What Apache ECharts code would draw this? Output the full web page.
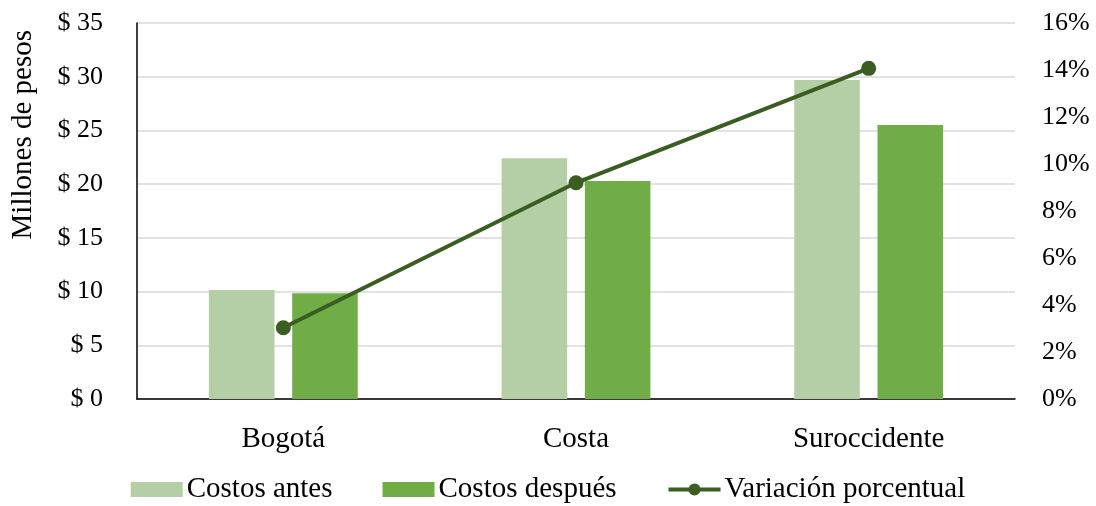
<!DOCTYPE html>
<html>
<head>
<meta charset="utf-8">
<script src="https://cdn.jsdelivr.net/npm/echarts@6/dist/echarts.min.js"></script>
<style>
  html, body { margin: 0; padding: 0; background: #fff; }
  #chart { width: 1096px; height: 506px; }
</style>
</head>
<body>
<div id="chart"></div>
<script>
const regiones = ["Bogotá", "Costa", "Suroccidente"];
const costosAntes = [10.15, 22.4, 29.7];
const costosDespues = [9.85, 20.3, 25.5];
const variacion = [3.03, 9.2, 14.07];

const FONT = "'Liberation Serif', 'Times New Roman', serif";
const FS = 29;      // category, legend, axis name
const FS_TICK = 26; // numeric tick labels

const chart = echarts.init(document.getElementById("chart"));

chart.setOption({
  animation: false,
  textStyle: { fontFamily: FONT, color: "#000" },
  grid: { left: 137, right: 81, top: 23, bottom: 107 },
  legend: {
    top: 470,
    left: "center",
    itemWidth: 52,
    itemHeight: 15,
    itemGap: 50,
    textStyle: { fontFamily: FONT, fontSize: FS, color: "#000", padding: [0, 0, 0, -1] },
    data: [
      { name: "Costos antes", icon: "rect" },
      { name: "Costos después", icon: "rect" },
      { name: "Variación porcentual", lineStyle: { width: 4 } }
    ]
  },
  graphic: [{
    type: "text",
    left: 9,
    top: 30,
    rotation: Math.PI / 2,
    style: {
      text: "Millones de pesos",
      font: FS + "px " + FONT,
      fill: "#000"
    }
  }],
  xAxis: {
    type: "category",
    data: regiones,
    axisTick: { show: false },
    axisLine: { lineStyle: { color: "#000", width: 1.5 } },
    axisLabel: { fontFamily: FONT, fontSize: FS, color: "#000", margin: 26 }
  },
  yAxis: [{
    type: "value",
    min: 0, max: 35, interval: 5,
    axisLine: { show: true, lineStyle: { color: "#000", width: 1.5 } },
    axisTick: { show: false },
    splitLine: { lineStyle: { color: "#d9d9d9", width: 1.5 } },
    axisLabel: { fontFamily: FONT, fontSize: FS_TICK, color: "#000", margin: 34,
      formatter: v => "$ " + v }
  }, {
    type: "value",
    min: 0, max: 16, interval: 2,
    axisLine: { show: false },
    axisTick: { show: false },
    splitLine: { show: false },
    axisLabel: { fontFamily: FONT, fontSize: FS_TICK, color: "#000", margin: 27,
      formatter: v => v + "%" }
  }],
  series: [{
    name: "Costos antes",
    type: "bar",
    data: costosAntes,
    barWidth: "22.4%",
    barGap: "27%",
    itemStyle: { color: "#b4cea6" }
  }, {
    name: "Costos después",
    type: "bar",
    data: costosDespues,
    barWidth: "22.4%",
    barGap: "27%",
    itemStyle: { color: "#70ad47" }
  }, {
    name: "Variación porcentual",
    type: "line",
    yAxisIndex: 1,
    data: variacion,
    symbol: "circle",
    symbolSize: 15,
    lineStyle: { color: "#3a5d22", width: 4 },
    itemStyle: { color: "#3a5d22" }
  }]
});
</script>
</body>
</html>
